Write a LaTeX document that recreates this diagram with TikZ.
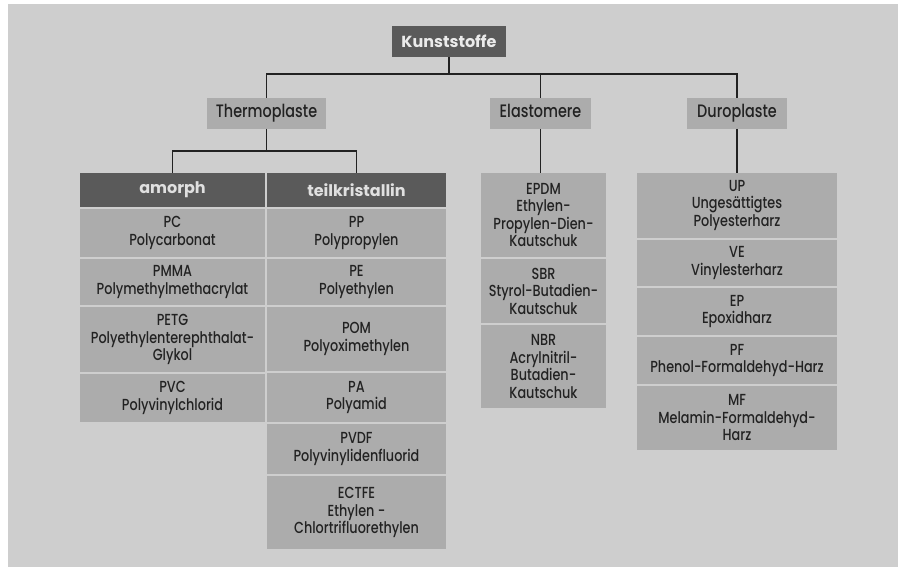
\documentclass[tikz,border=0pt]{standalone}
\usepackage{fontspec}
\setmainfont{Poppins Medium}[FakeStretch=0.8]
\newfontfamily\headfont{Poppins}
\usetikzlibrary{positioning}
\definecolor{panel}{HTML}{CECECE}
\definecolor{cellgrey}{HTML}{ACACAC}
\definecolor{headgrey}{HTML}{5A5A5A}
\definecolor{inkgrey}{HTML}{222222}
\begin{document}
\begin{tikzpicture}[x=1pt, y=1pt,
		top/.style={fill=headgrey, text=white!92!black, font=\headfont\fontsize{16}{19}\selectfont\bfseries, minimum width=114pt, minimum height=31pt, inner sep=0pt, outer sep=0pt},
		group/.style={fill=cellgrey, text=inkgrey, font=\fontsize{18}{21}\selectfont, text height=12pt, text depth=4pt, minimum height=31pt, inner sep=0pt, outer sep=0pt},
		header/.style={fill=headgrey, text=white!88!black, font=\headfont\fontsize{16}{19}\selectfont\bfseries, minimum height=34pt, inner sep=0pt, outer sep=0pt},
		cell/.style={fill=cellgrey, text=inkgrey, align=center, font=\fontsize{16}{17.5}\selectfont, inner sep=0pt, outer sep=0pt},
		link/.style={draw=inkgrey, line width=1.6pt}
		]
		
		\useasboundingbox (0,0) rectangle (898,-567);
		\fill[panel] (8,-4) rectangle (898,-567);
		
		\node[top] (kunst) at (449,-41.5) {Kunststoffe};
		\node[group, minimum width=119pt] (thermo) at (266.5,-113.5) {Thermoplaste};
		\node[group, minimum width=101pt] (elasto) at (540.5,-113.5) {Elastomere};
		\node[group, minimum width=100pt] (duro) at (737,-113.5) {Duroplaste};
		
		% Thermoplaste
		\node[header, minimum width=185pt, anchor=north west] (amorph) at (80,-173) {amorph};
		\node[header, minimum width=179pt, right=2pt of amorph] (teil) {teilkristallin};
		
		\node[cell, minimum width=185pt, minimum height=48pt, below=2pt of amorph] (pc) {PC\\Polycarbonat};
		\node[cell, minimum width=185pt, minimum height=46pt, below=2pt of pc] (pmma) {PMMA\\Polymethylmethacrylat};
		\node[cell, minimum width=185pt, minimum height=65pt, below=2pt of pmma] (petg) {PETG\\Polyethylenterephthalat-\\Glykol};
		\node[cell, minimum width=185pt, minimum height=48pt, below=2pt of petg] (pvc) {PVC\\Polyvinylchlorid};
		
		\node[cell, minimum width=179pt, minimum height=48pt, below=2pt of teil] (pp) {PP\\Polypropylen};
		\node[cell, minimum width=179pt, minimum height=46pt, below=2pt of pp] (pe) {PE\\Polyethylen};
		\node[cell, minimum width=179pt, minimum height=64pt, below=2pt of pe] (pom) {POM\\Polyoximethylen};
		\node[cell, minimum width=179pt, minimum height=49pt, below=2pt of pom] (pa) {PA\\Polyamid};
		\node[cell, minimum width=179pt, minimum height=50pt, below=2pt of pa] (pvdf) {PVDF\\Polyvinylidenfluorid};
		\node[cell, minimum width=179pt, minimum height=73pt, below=2pt of pvdf] (ectfe) {ECTFE\\Ethylen -\\Chlortrifluorethylen};
		
		% Elastomere
		\node[cell, minimum width=125pt, minimum height=84pt, anchor=north west] (epdm) at (481,-173) {EPDM\\Ethylen-\\Propylen-Dien-\\Kautschuk};
		\node[cell, minimum width=125pt, minimum height=64pt, below=2pt of epdm] (sbr) {SBR\\Styrol-Butadien-\\Kautschuk};
		\node[cell, minimum width=125pt, minimum height=83pt, below=2pt of sbr] (nbr) {NBR\\Acrylnitril-\\Butadien-\\Kautschuk};
		
		% Duroplaste
		\node[cell, minimum width=200pt, minimum height=65pt, anchor=north west] (up) at (637,-173) {UP\\Ungesättigtes\\Polyesterharz};
		\node[cell, minimum width=200pt, minimum height=46pt, below=2pt of up] (ve) {VE\\Vinylesterharz};
		\node[cell, minimum width=200pt, minimum height=47pt, below=2pt of ve] (ep) {EP\\Epoxidharz};
		\node[cell, minimum width=200pt, minimum height=47pt, below=2pt of ep] (pf) {PF\\Phenol-Formaldehyd-Harz};
		\node[cell, minimum width=200pt, minimum height=64pt, below=2pt of pf] (mf) {MF\\Melamin-Formaldehyd-\\Harz};
		
		\draw[link] (kunst.south) -- ++(0,-17) coordinate (bus);
		\foreach \n in {thermo,elasto,duro}{
			\draw[link] (bus) -| (\n.north);
		}
		\draw[link] (thermo.south) -- ++(0,-22) coordinate (split);
		\foreach \n in {amorph,teil}{
			\draw[link] (split) -| (\n.north);
		}
		\draw[link] (elasto.south) -- (elasto.south |- epdm.north);
		\draw[link] (duro.south) -- (up.north);
		
	\end{tikzpicture}
\end{document}
